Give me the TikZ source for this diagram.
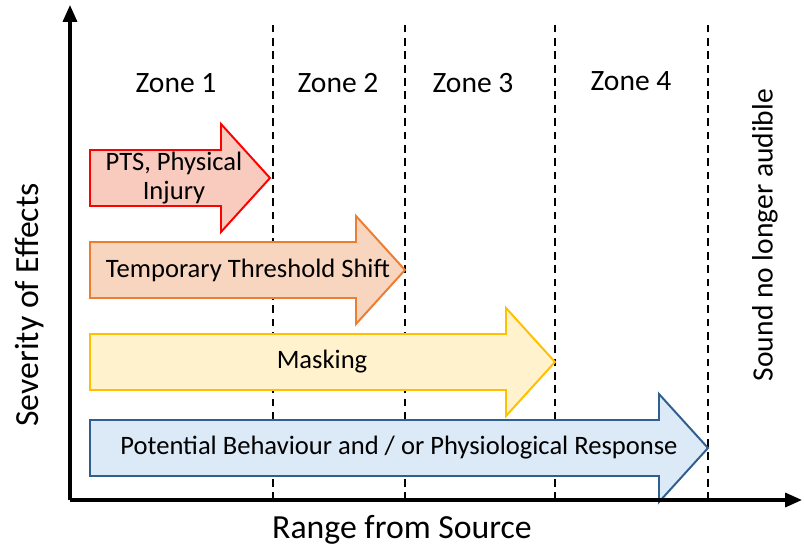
\documentclass[tikz,border=0pt]{standalone}
\usepackage{fontspec}
\setmainfont{Carlito}
\usepackage{xcolor}
\definecolor{ptsEdge}{HTML}{FF0000}
\definecolor{ptsFill}{HTML}{F8CBBE}
\definecolor{ttsEdge}{HTML}{ED7D31}
\definecolor{ttsFill}{HTML}{F8D5BF}
\definecolor{maskEdge}{HTML}{FFC000}
\definecolor{maskFill}{HTML}{FFF2CC}
\definecolor{respEdge}{HTML}{2F5F8F}
\definecolor{respFill}{HTML}{DCE9F6}
\usepackage{tikz}
\usetikzlibrary{arrows.meta}
\tikzset{
  effect/.style={line width=1.4pt, line join=miter},
  effecttext/.style={align=center, font=\fontsize{18.9}{21}\selectfont},
  zonetext/.style={font=\fontsize{21}{24}\selectfont},
  axistext/.style={font=\fontsize{24}{28}\selectfont},
  zoneline/.style={line width=1pt, dash pattern=on 5.5pt off 4pt}
}
% name, edge colour, fill colour, tip x, centre y
\newcommand{\effectarrow}[5]{%
  \draw[effect, draw=#2, fill=#3] (90,#5-28) -- (90,#5+28) -- (#4-49,#5+28)
    -- (#4-49,#5+54) -- (#4,#5) coordinate (#1) -- (#4-49,#5-54)
    -- (#4-49,#5-28) -- cycle;
}

\begin{document}
\begin{tikzpicture}[x=0.025cm, y=0.025cm, >={Triangle[length=12pt,width=10pt]}]
  \useasboundingbox (0,0) rectangle (804,548);
  % ---- zone borders ----
  \foreach \x in {273,405,555,708} {
    \draw[zoneline] (\x,48) -- (\x,526);
  }
  \node[zonetext] (zone1) at (176,465) {Zone 1};
  \node[zonetext] (zone2) at (338,465) {Zone 2};
  \node[zonetext] (zone3) at (473,465) {Zone 3};
  \node[zonetext] (zone4) at (631,467) {Zone 4};
  \node[zonetext, rotate=90] (inaudible) at (765,313) {Sound no longer audible};
  % ---- effect arrows ----
  \effectarrow{ptstip}{ptsEdge}{ptsFill}{270}{370}
  \node[effecttext] (pts) at (174,370) {PTS, Physical\\Injury};
  \effectarrow{ttstip}{ttsEdge}{ttsFill}{405}{278}
  \node[effecttext] (tts) at (248,278) {Temporary Threshold Shift};
  \effectarrow{masktip}{maskEdge}{maskFill}{555}{186}
  \node[effecttext] (mask) at (322,186) {Masking};
  \effectarrow{resptip}{respEdge}{respFill}{708}{100}
  \node[effecttext] (resp) at (399,100) {Potential Behaviour and / or Physiological Response};
  % ---- axes ----
  \coordinate (origin) at (70,48);
  \coordinate (ytop) at (70,543);
  \coordinate (xend) at (802,48);
  \draw[->, line width=2.2pt] (origin) -- (ytop);
  \draw[->, line width=2.2pt] (origin) -- (xend);
  \node[axistext, rotate=90] (severity) at (30,243) {Severity of Effects};
  \node[axistext] (range) at (402,18) {Range from Source};
\end{tikzpicture}
\end{document}
